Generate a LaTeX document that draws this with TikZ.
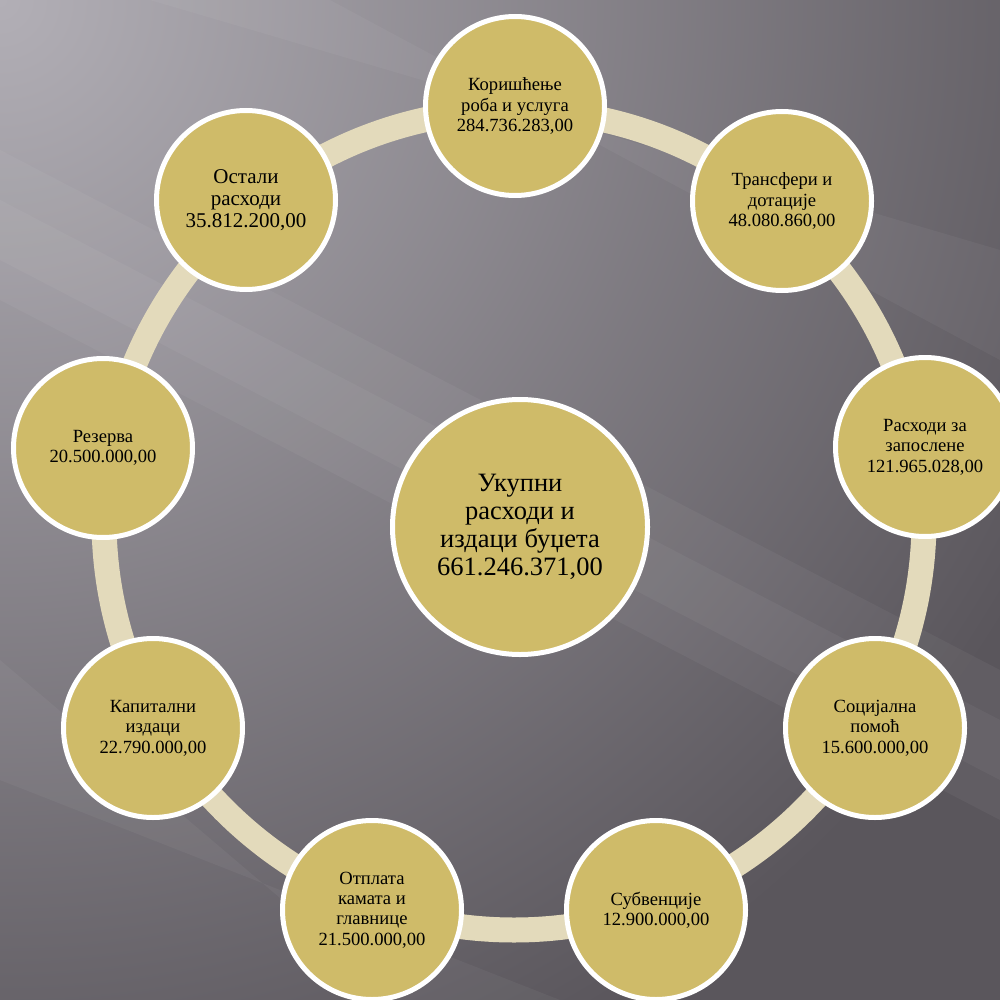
\documentclass[tikz,border=0pt]{standalone}
\usepackage{fontspec}
\setmainfont{Liberation Serif}
\definecolor{bgA}{HTML}{B2AFB6}
\definecolor{bgC}{HTML}{5A565C}
\definecolor{disc}{HTML}{CFBB69}
\definecolor{ringc}{HTML}{E3DABB}
\begin{document}
\begin{tikzpicture}[x=1pt,y=-1pt,
  outer/.style={circle, fill=disc, draw=white, line width=5pt, minimum size=179pt,
    inner sep=0pt, align=center, text=black, font=\fontsize{18.6}{20.4}\selectfont},
  bigouter/.style={outer, font=\fontsize{21}{21.8}\selectfont},
  hub/.style={outer, minimum size=255pt, font=\fontsize{26.5}{28}\selectfont},
  ringline/.style={draw=ringc, line width=25pt},
  streak/.style={fill=white, opacity=0.045}]
\useasboundingbox (0,0) rectangle (1000,1000);
\begin{scope}
\clip (0,0) rectangle (1000,1000);
\fill[bgC] (0,0) rectangle (1000,1000);
\shade[inner color=bgA, outer color=bgC] (0,0) circle[radius=1180];
% light streaks
\fill[streak] (0,150) -- (0,300) -- (1000,820) -- (1000,670) -- cycle;
\fill[streak] (0,200) -- (0,260) -- (1000,780) -- (1000,720) -- cycle;
\fill[streak] (0,660) -- (0,780) -- (560,1000) -- (400,1000) -- cycle;
\fill[streak] (150,0) -- (330,0) -- (1000,360) -- (1000,250) -- cycle;
\end{scope}
% ring
\coordinate (rc) at (514,520);
\draw[ringline] (rc) circle[radius=410];
% nodes
\node[hub] (hub) at (520,527) {Укупни\\расходи и\\издаци буџета\\661.246.371,00};
\node[outer] (n1) at (515,106) {Коришћење\\роба и услуга\\284.736.283,00};
\node[outer] (n2) at (782,201) {Трансфери и\\дотације\\48.080.860,00};
\node[outer] (n3) at (925,447) {Расходи за\\запослене\\121.965.028,00};
\node[outer] (n4) at (875,728) {Социјална\\помоћ\\15.600.000,00};
\node[outer] (n5) at (656,910) {Субвенције\\12.900.000,00};
\node[outer] (n6) at (372,910) {Отплата\\камата и\\главнице\\21.500.000,00};
\node[outer] (n7) at (153,728) {Капитални\\издаци\\22.790.000,00};
\node[outer] (n8) at (103,448) {Резерва\\20.500.000,00};
\node[bigouter] (n9) at (246,200) {Остали\\расходи\\35.812.200,00};
\end{tikzpicture}
\end{document}
